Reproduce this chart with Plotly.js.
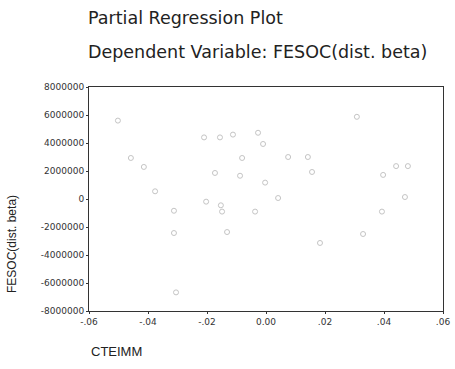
<!DOCTYPE html>
<html>
<head>
<meta charset="utf-8">
<script src="https://cdn.plot.ly/plotly-3.0.1.min.js"></script>
<style>html,body{margin:0;padding:0;background:#fff;}#chart{width:455px;height:369px;}</style>
</head>
<body>
<div id="chart"></div>
<script>
// Partial residuals of CTEIMM (x) and FESOC (y)
var cteimm = [-0.0502, -0.0458, -0.0414, -0.0376, -0.0312, -0.0312, -0.0305, -0.0210, -0.0203, -0.0173,
              -0.0156, -0.0112, -0.0149, -0.0153, -0.0132, -0.0081, -0.0027, -0.0010, -0.0088, -0.0003,
              0.0075, 0.0142, 0.0156, 0.0041, -0.0037, 0.0183, 0.0308, 0.0441, 0.0481, 0.0471,
              0.0393, 0.0329, 0.0397];
var fesoc = [5600000, 2930000, 2290000, 550000, -840000, -2430000, -6670000, 4400000, -190000, 1860000,
             4400000, 4600000, -900000, -450000, -2360000, 2930000, 4730000, 3930000, 1660000, 1170000,
             3000000, 3000000, 1930000, 70000, -900000, -3140000, 5870000, 2350000, 2350000, 140000,
             -900000, -2500000, 1720000];
var xTickVals = [-0.06, -0.04, -0.02, 0, 0.02, 0.04, 0.06];
var xTickText = ["-.06", "-.04", "-.02", "0.00", ".02", ".04", ".06"];
var yTickVals = [8000000, 6000000, 4000000, 2000000, 0, -2000000, -4000000, -6000000, -8000000];
var yTickText = ["8000000", "6000000", "4000000", "2000000", "0", "-2000000", "-4000000", "-6000000", "-8000000"];
var titleText = "Partial Regression Plot";
var subtitleText = "Dependent Variable: FESOC(dist. beta)";
var xTitle = "CTEIMM";
var yTitle = "FESOC(dist. beta)";

var font = "Liberation Sans, Arial, sans-serif";
var wide = "DejaVu Sans, sans-serif";
var trace = {
  x: cteimm, y: fesoc, type: "scatter", mode: "markers",
  marker: {symbol: "circle-open", size: 5, color: "#c4c4c4", line: {width: 1, color: "#c4c4c4"}},
  hoverinfo: "x+y"
};
var layout = {
  width: 455, height: 369,
  margin: {l: 89, r: 12, t: 87, b: 58},
  paper_bgcolor: "#fff", plot_bgcolor: "#fff",
  showlegend: false,
  font: {family: font, color: "#222"},
  xaxis: {
    range: [-0.06, 0.06], tickvals: xTickVals, ticktext: xTickText,
    showgrid: false, zeroline: false, showline: true, mirror: true,
    linecolor: "#333", linewidth: 1, ticks: "outside", ticklen: 2, tickcolor: "#333",
    tickfont: {family: wide, size: 9, color: "#333"}
  },
  yaxis: {
    range: [-8000000, 8000000], tickvals: yTickVals, ticktext: yTickText,
    showgrid: false, zeroline: false, showline: true, mirror: true,
    linecolor: "#333", linewidth: 1, ticks: "outside", ticklen: 2, tickcolor: "#333",
    tickfont: {family: wide, size: 9, color: "#333"}
  },
  annotations: [
    {text: titleText, xref: "paper", yref: "paper", x: -0.008, y: 1.308, xanchor: "left", yanchor: "middle",
     showarrow: false, font: {family: wide, size: 17.5, color: "#222"}},
    {text: subtitleText, xref: "paper", yref: "paper", x: -0.008, y: 1.156, xanchor: "left", yanchor: "middle",
     showarrow: false, font: {family: wide, size: 17.5, color: "#222"}},
    {text: xTitle, xref: "paper", yref: "paper", x: 0, y: -0.183, xanchor: "left", yanchor: "middle",
     showarrow: false, font: {family: font, size: 13, color: "#222"}},
    {text: yTitle, xref: "paper", yref: "paper", x: -0.217, y: 0.30, xanchor: "center", yanchor: "middle",
     textangle: -90, showarrow: false, font: {family: font, size: 12, color: "#222"}}
  ]
};
Plotly.newPlot("chart", [trace], layout, {displayModeBar: false, staticPlot: true});
</script>
</body>
</html>
